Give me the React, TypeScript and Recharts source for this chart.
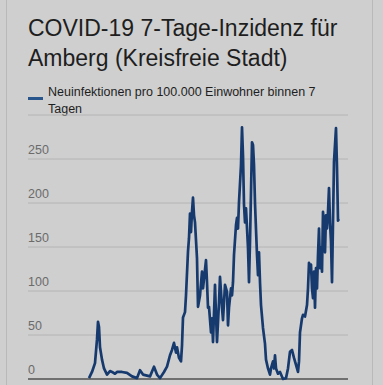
import React from "react";
import { LineChart, Line, XAxis, YAxis, CartesianGrid, ReferenceLine } from "recharts";

// Day index (relative to the left edge of the plot) and 7-day incidence
const days = [
  61, 64, 67, 69, 70, 71, 72, 74, 76, 79,
  82, 84, 87, 89, 94, 99, 104, 109, 112, 115,
  122, 126, 129, 132, 136, 139, 142, 144, 146, 148,
  149, 151, 153, 154, 155, 157, 158, 160, 161, 162,
  163, 164, 165, 166, 167, 169, 170, 172, 174, 175,
  178, 179, 180, 181, 183, 184, 185, 187, 188, 189,
  191, 192, 193, 194, 195, 197, 199, 200, 201, 203,
  204, 205, 206, 208, 209, 210, 211, 213, 214, 215,
  216, 217, 218, 220, 221, 222, 223, 224, 225, 226,
  227, 228, 229, 230, 231, 232, 233, 235, 237, 238,
  240, 242, 243, 245, 246, 247, 248, 250, 252, 255,
  258, 260, 262, 264, 266, 268, 270, 271, 272, 274,
  275, 277, 279, 280, 281, 282, 283, 284, 285, 286,
  287, 288, 289, 290, 291, 292, 293, 294, 295, 296,
  297, 298, 299, 300, 301, 302, 303, 304, 305, 306,
  308, 309, 310, 311,
];

const incidence = [
  1, 8, 18, 45, 65, 59, 36, 22, 12, 5,
  9, 8, 6, 8, 8, 7, 3, 1, 10, 5,
  3, 14, 5, 1, 8, 14, 27, 33, 41, 30,
  36, 24, 20, 38, 70, 76, 95, 145, 160, 188,
  167, 190, 206, 186, 178, 137, 82, 95, 122, 103,
  135, 110, 81, 82, 53, 69, 42, 107, 73, 42,
  87, 116, 99, 81, 67, 107, 99, 61, 81, 103,
  95, 110, 141, 175, 183, 171, 201, 243, 286, 254,
  198, 178, 194, 149, 110, 156, 212, 269, 266, 243,
  200, 170, 141, 118, 144, 110, 84, 58, 40, 22,
  12, 5, 12, 20, 12, 27, 12, 6, 8, 0,
  1, 12, 31, 33, 24, 16, 8, 20, 53, 69,
  73, 71, 84, 103, 132, 126, 130, 103, 92, 122,
  81, 126, 103, 141, 171, 126, 149, 122, 190, 175,
  144, 186, 171, 190, 217, 178, 156, 110, 178, 247,
  285, 240, 180, 182,
];

const yTicks = [0, 50, 100, 150, 200, 250];

const TITLE = "COVID-19 7-Tage-Inzidenz für Amberg (Kreisfreie Stadt)";
const SERIES_NAME = "Neuinfektionen pro 100.000 Einwohner binnen 7 Tagen";

const LINE_COLOR = "#173a6e";
const FONT = "'Liberation Sans', Arial, Helvetica, sans-serif";

const data = days.map((d, i) => ({ day: d, value: incidence[i] }));

const PLOT_LEFT = 28;

// tick labels sit left-aligned above their grid line
const renderYTick = (props: any) => {
  const { y, payload } = props;
  return (
    <text
      key={`yt-${payload.value}`}
      x={PLOT_LEFT}
      y={Number(y) - 5}
      textAnchor="start"
      fill="#6b6b6b"
      fontSize={12.5}
      fontFamily={FONT}
    >
      {payload.value}
    </text>
  );
};

export default function App() {
  return (
    <div
      style={{
        position: "fixed",
        left: 0,
        top: 0,
        width: 383,
        height: 385,
        background: "#cfcfcf",
        fontFamily: FONT,
        overflow: "hidden",
      }}
    >
      <div style={{ position: "absolute", left: 6, top: 0, width: 1, height: 385, background: "#b9b9b9" }} />
      <div style={{ position: "absolute", left: 372, top: 0, width: 1, height: 385, background: "#b9b9b9" }} />

      <div
        style={{
          position: "absolute",
          left: 28,
          top: 13,
          width: 340,
          fontSize: 23,
          lineHeight: "30px",
          color: "#1e1e1e",
        }}
      >
        {TITLE}
      </div>

      <div
        style={{
          position: "absolute",
          left: 28,
          top: 97,
          width: 15,
          height: 2.5,
          background: "#27558c",
        }}
      />
      <div
        style={{
          position: "absolute",
          left: 48,
          top: 84,
          width: 290,
          fontSize: 12.5,
          lineHeight: "16.5px",
          color: "#1e1e1e",
        }}
      >
        {SERIES_NAME}
      </div>

      <div style={{ position: "absolute", left: 0, top: 0 }}>
        <LineChart
          width={383}
          height={385}
          data={data}
          margin={{ top: 115, right: 35, bottom: 6, left: PLOT_LEFT - 1 }}
        >
          <CartesianGrid vertical={false} stroke="#b4b4b4" strokeWidth={1} />
          <XAxis dataKey="day" type="number" domain={[0, 320]} hide />
          <YAxis
            type="number"
            domain={[0, 300]}
            ticks={yTicks}
            width={1}
            axisLine={false}
            tickLine={false}
            tick={renderYTick}
            interval={0}
          />
          <ReferenceLine y={0} stroke="#555555" strokeWidth={1.5} />
          <Line
            type="linear"
            dataKey="value"
            stroke={LINE_COLOR}
            strokeWidth={2.7}
            strokeLinejoin="round"
            dot={false}
            isAnimationActive={false}
          />
        </LineChart>
      </div>
    </div>
  );
}
